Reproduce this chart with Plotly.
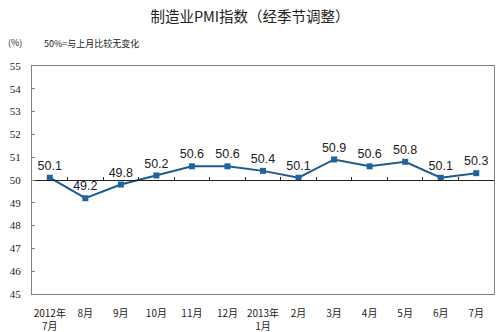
import plotly.graph_objects as go

months = ["2012年<br>7月", "8月", "9月", "10月", "11月", "12月", "2013年<br>1月",
          "2月", "3月", "4月", "5月", "6月", "7月"]
pmi = [50.1, 49.2, 49.8, 50.2, 50.6, 50.6, 50.4, 50.1, 50.9, 50.6, 50.8, 50.1, 50.3]
y_ticks = list(range(45, 56))

cjk = "Noto Sans CJK SC"
fig = go.Figure()
fig.add_trace(go.Scatter(
    x=months, y=pmi, mode="lines+markers+text",
    text=[f"{v:.1f}" for v in pmi], textposition="top center",
    textfont=dict(family="Liberation Sans", size=12.5, color="#222222"),
    line=dict(color="#1d5a8e", width=2),
    marker=dict(symbol="square", size=6, color="#1f64a0"),
    cliponaxis=False, showlegend=False,
))
# invisible trace on secondary x axis to draw the 50 baseline axis
fig.add_trace(go.Scatter(x=months, y=pmi, xaxis="x2", mode="none",
                         showlegend=False, hoverinfo="skip"))

fig.update_layout(
    width=500, height=332,
    margin=dict(l=32, r=6, t=66, b=38),
    paper_bgcolor="white", plot_bgcolor="white",
    title=dict(text="制造业PMI指数（经季节调整）", x=0.5, xanchor="center",
               y=1 - 17 / 332, yanchor="middle",
               font=dict(family=cjk, size=14.5, color="#222222")),
    xaxis=dict(type="category", range=[-0.5, 12.5], showgrid=False,
               showline=True, linecolor="#808080", linewidth=1, mirror=True,
               ticks="", ticklabelstandoff=10, automargin=False,
               tickfont=dict(family=cjk, size=10, color="#222222"),
               zeroline=False),
    xaxis2=dict(type="category", range=[-0.5, 12.5], overlaying="x",
                anchor="free", position=0.5, showgrid=False, automargin=False,
                showline=True, linecolor="#222222", linewidth=1,
                ticks="inside", ticklen=3, tickcolor="#222222",
                tickson="boundaries", showticklabels=False),
    yaxis=dict(range=[45, 55], tickvals=y_ticks, showgrid=False,
               showline=True, linecolor="#808080", linewidth=1, mirror=True,
               ticks="inside", ticklen=3, tickcolor="#808080",
               ticklabelstandoff=8, automargin=False,
               tickfont=dict(family="Liberation Serif", size=11, color="#222222"),
               zeroline=False),
)
fig.add_annotation(text="(%)", xref="paper", yref="paper",
                   x=-26 / 462, y=1 + 24 / 228, xanchor="left", yanchor="middle",
                   showarrow=False,
                   font=dict(family=cjk, size=9, color="#222222"))
fig.add_annotation(text="50%=与上月比较无变化", xref="paper", yref="paper",
                   x=10 / 462, y=1 + 22 / 228, xanchor="left", yanchor="middle",
                   showarrow=False,
                   font=dict(family=cjk, size=9, color="#222222"))

fig.write_html("out.html")
